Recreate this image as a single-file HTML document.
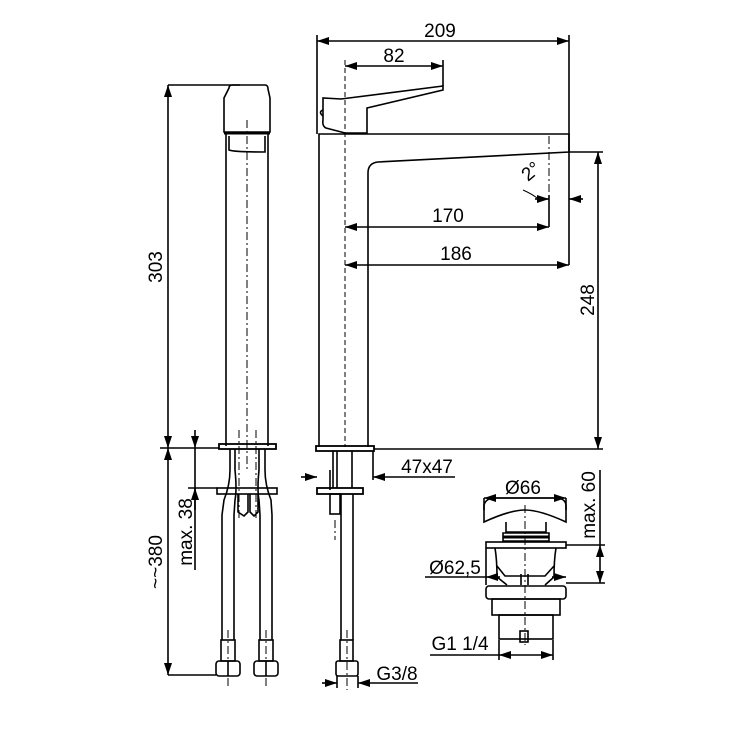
<!DOCTYPE html>
<html><head><meta charset="utf-8"><style>
html,body{margin:0;padding:0;background:#fff;width:750px;height:750px;overflow:hidden}
svg{display:block}
text{font-family:"Liberation Sans",Arial,sans-serif;font-size:19px;fill:#000}
</style></head><body>
<svg width="750" height="750" viewBox="0 0 750 750" xmlns="http://www.w3.org/2000/svg">
<defs>
<marker id="a" viewBox="0 0 12 8" refX="12" refY="4" markerWidth="13" markerHeight="8" orient="auto-start-reverse" markerUnits="userSpaceOnUse"><path d="M0,0 L12,4 L0,8z" fill="#000"/></marker>
</defs>
<g stroke="#000" stroke-width="1.6" fill="none">
<!-- LEFT VIEW -->
<path d="M229,88 Q229,85 233,85 L265,85 Q268,85 268,89 L270,98 L270,132 L224,132 L224,98z"/>
<line x1="224" y1="133" x2="270" y2="133" stroke-width="3"/>
<path d="M226,134 L226,446 M268,134 L268,446"/>
<path d="M229,136 L229,150 Q234,152 265,152 L265,136"/>
<rect x="219" y="444" width="57" height="5" stroke-width="1.8"/>
<path d="M230,449 L230,470 Q230,485 224,500 L222,515 L222,640 M235,449 L235,470 Q237,490 235,500 L234,515 L234,640"/>
<path d="M265,449 L265,470 Q265,485 271,500 L272,515 L272,640 M259,449 L259,470 Q257,490 259,500 L260,515 L260,640"/>
<rect x="217" y="488" width="60" height="6"/>
<path d="M238,494 L238,512 L244,516 L248,512 L248,494 M250,494 L250,512 L254,516 L258,512 L258,494"/>
<rect x="221" y="640" width="14" height="21"/><rect x="259" y="640" width="14" height="21"/>
<rect x="216" y="661" width="24" height="15" rx="3"/><rect x="254" y="661" width="24" height="15" rx="3"/>
<path d="M228,661 V676 M266,661 V676"/>
<g stroke-width="1" stroke-dasharray="8,3,2,3">
<line x1="247" y1="120" x2="247" y2="470"/>
<line x1="239" y1="430" x2="239" y2="520"/><line x1="256" y1="430" x2="256" y2="520"/>
<line x1="228" y1="630" x2="228" y2="688"/><line x1="266" y1="630" x2="266" y2="688"/>
</g>
<!-- dims left -->
<line x1="168" y1="85" x2="240" y2="85"/>
<line x1="168" y1="85" x2="168" y2="448" marker-start="url(#a)" marker-end="url(#a)"/>
<line x1="160" y1="448" x2="219" y2="448"/>
<line x1="168" y1="448" x2="168" y2="675" marker-start="url(#a)" marker-end="url(#a)"/>
<line x1="168" y1="675" x2="216" y2="675"/>
<line x1="188" y1="488" x2="217" y2="488"/>
<line x1="195" y1="430" x2="195" y2="448" marker-end="url(#a)"/>
<line x1="195" y1="448" x2="195" y2="570"/>
<line x1="195" y1="510" x2="195" y2="488" marker-end="url(#a)"/>
<!-- MIDDLE VIEW -->
<path d="M319,447 L319,134 L569,134 L569,152 L378,162 Q368,163 368,173 L368,447"/>
<path d="M323,98 L323,120 Q322,126 326,128 L345,133 L367,133 L367,108 L443,90 L443,86 L341,99 Z"/>
<path d="M323,110 Q318,112 323,116"/>
<rect x="316" y="446" width="58" height="5" stroke-width="1.8"/>
<path d="M333,451 V488 M337,451 V488 M352,451 V488"/>
<rect x="317" y="488" width="46" height="6" stroke-width="1.8"/>
<path d="M341,494 V640 M353,494 V640"/>
<rect x="330" y="494" width="10" height="20"/>
<rect x="340" y="640" width="13" height="21"/>
<rect x="336" y="661" width="22" height="15" rx="2"/>
<g stroke-width="1" stroke-dasharray="8,3,2,3">
<line x1="335" y1="520" x2="335" y2="540"/>
<line x1="347" y1="630" x2="347" y2="690"/>
<line x1="549" y1="136" x2="549" y2="195"/>
</g>
<line x1="345" y1="60" x2="345" y2="447" stroke-width="1" stroke-dasharray="5,3"/>
<line x1="330" y1="470" x2="330" y2="490"/>
<!-- dims middle -->
<line x1="317" y1="35" x2="317" y2="134"/><line x1="569" y1="35" x2="569" y2="134"/>
<line x1="317" y1="41" x2="569" y2="41" marker-start="url(#a)" marker-end="url(#a)"/>
<line x1="443" y1="60" x2="443" y2="86"/>
<line x1="345" y1="66" x2="443" y2="66" marker-start="url(#a)" marker-end="url(#a)"/>
<line x1="549" y1="195" x2="549" y2="227"/>
<line x1="345" y1="227" x2="549" y2="227" marker-start="url(#a)" marker-end="url(#a)"/>
<line x1="569" y1="134" x2="569" y2="265"/>
<line x1="345" y1="265" x2="569" y2="265" marker-start="url(#a)" marker-end="url(#a)"/>
<path d="M523,190 Q532,194 537,198" stroke-width="1"/>
<line x1="535" y1="199" x2="549" y2="199" marker-end="url(#a)"/>
<line x1="583" y1="199" x2="569" y2="199" marker-end="url(#a)"/>
<line x1="569" y1="152" x2="603" y2="152"/>
<line x1="374" y1="449" x2="603" y2="449"/>
<line x1="598" y1="152" x2="598" y2="449" marker-start="url(#a)" marker-end="url(#a)"/>
<line x1="373" y1="451" x2="373" y2="480"/>
<line x1="301" y1="477" x2="317" y2="477" marker-end="url(#a)"/>
<line x1="455" y1="477" x2="373" y2="477" marker-end="url(#a)"/>
<line x1="322" y1="683" x2="337" y2="683" marker-end="url(#a)"/>
<line x1="418" y1="683" x2="358" y2="683" marker-end="url(#a)"/>
<line x1="337" y1="676" x2="337" y2="688"/><line x1="358" y1="676" x2="358" y2="688"/>
<!-- RIGHT: waste -->
<path d="M484,522 L484,505 Q486,498 495,498 L555,498 Q566,498 566,506 L566,522 Q540,510 525,510 Q510,510 484,522z"/>
<path d="M506,522 L506,532 L546,532 L546,522 M503,533 L503,541 L549,541 L549,533 Z"/>
<line x1="503" y1="537" x2="549" y2="537" stroke-width="3"/>
<rect x="486" y="542" width="80" height="6"/>
<path d="M495,548 Q497,560 497,577 L507,585 M556,548 Q554,560 554,577 L545,585"/>
<path d="M497,566 L505,576 L545,576 L554,566"/>
<path d="M521,574 V585 M528,574 V585"/>
<rect x="486" y="586" width="80" height="13" rx="3"/>
<rect x="492" y="599" width="68" height="16"/>
<rect x="499" y="615" width="54" height="24"/>
<rect x="520" y="631" width="8" height="11"/>
<g stroke-width="1" stroke-dasharray="8,3,2,3"><line x1="525" y1="505" x2="525" y2="645"/></g>
<line x1="484" y1="498" x2="484" y2="510"/><line x1="566" y1="498" x2="566" y2="510"/>
<line x1="484" y1="498" x2="566" y2="498" marker-start="url(#a)" marker-end="url(#a)"/>
<line x1="486" y1="548" x2="486" y2="585"/>
<line x1="425" y1="577" x2="486" y2="577"/>
<line x1="500" y1="577" x2="486" y2="577" marker-end="url(#a)"/>
<line x1="552" y1="577" x2="566" y2="577" marker-end="url(#a)"/>
<line x1="566" y1="545" x2="605" y2="545"/><line x1="566" y1="583" x2="605" y2="583"/>
<line x1="600" y1="470" x2="600" y2="545"/>
<line x1="600" y1="545" x2="600" y2="583" marker-start="url(#a)" marker-end="url(#a)"/>
<line x1="499" y1="640" x2="499" y2="660"/><line x1="553" y1="640" x2="553" y2="660"/>
<line x1="430" y1="655" x2="499" y2="655"/>
<line x1="499" y1="655" x2="553" y2="655" marker-start="url(#a)" marker-end="url(#a)"/>
</g>
<!-- text -->
<text x="440" y="37" text-anchor="middle">209</text>
<text x="394" y="62" text-anchor="middle">82</text>
<text x="448" y="222" text-anchor="middle">170</text>
<text x="456" y="260" text-anchor="middle">186</text>
<text transform="translate(528,182) rotate(-40)" font-size="18">2°</text>
<text transform="translate(594,300) rotate(-90)" text-anchor="middle">248</text>
<text transform="translate(162,267) rotate(-90)" text-anchor="middle">303</text>
<text transform="translate(162,562) rotate(-90)" text-anchor="middle">~~380</text>
<text transform="translate(192,532) rotate(-90)" text-anchor="middle">max. 38</text>
<text x="427" y="473" text-anchor="middle">47x47</text>
<text x="397" y="680" text-anchor="middle">G3/8</text>
<text x="523" y="494" text-anchor="middle">Ø66</text>
<text x="455" y="574" text-anchor="middle">Ø62,5</text>
<text transform="translate(595,505) rotate(-90)" text-anchor="middle">max. 60</text>
<text x="460" y="650" text-anchor="middle">G1 1/4</text>
</svg>
</body></html>
